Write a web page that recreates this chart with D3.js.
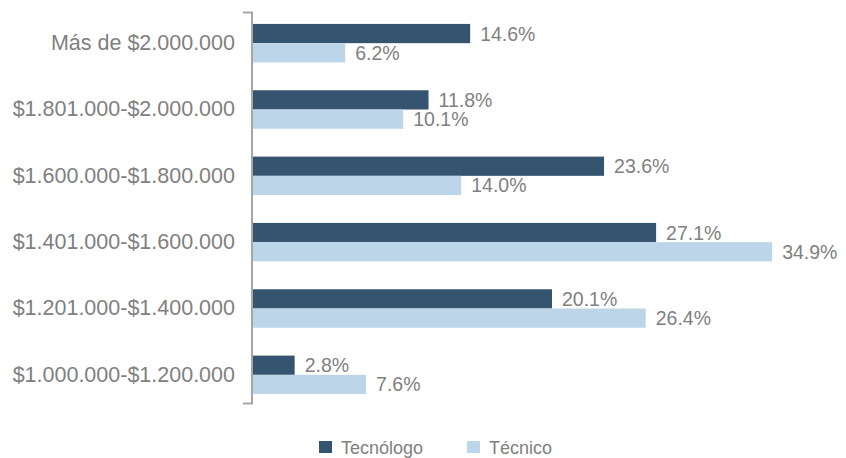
<!DOCTYPE html>
<html><head><meta charset="utf-8">
<script src="https://cdn.jsdelivr.net/npm/d3@7"></script>
<style>body{margin:0;background:#fff}svg{display:block}</style>
</head><body>
<svg id="c" width="846" height="458"></svg>
<script>
const categories = ["Más de $2.000.000","$1.801.000-$2.000.000","$1.600.000-$1.800.000","$1.401.000-$1.600.000","$1.201.000-$1.400.000","$1.000.000-$1.200.000"];
const seriesNames = ["Tecnólogo","Técnico"];
const tecnologo = [14.6, 11.8, 23.6, 27.1, 20.1, 2.8];
const tecnico = [6.2, 10.1, 14.0, 34.9, 26.4, 7.6];
const colors = ["#34546f","#bdd5e8"];
const font = "'Liberation Sans', Arial, sans-serif";
const textColor = "#808080";

const svg = d3.select("#c");
const x0 = 253;
const x = d3.scaleLinear().domain([0, 40]).range([x0, x0 + 595]);
const y = d3.scaleBand().domain(categories).range([10, 408]).paddingInner(0.42).paddingOuter(0.21);
const ySub = d3.scaleBand().domain(seriesNames).range([0, y.bandwidth()]);

const data = categories.map((c, i) => ({cat: c, vals: [tecnologo[i], tecnico[i]]}));

const g = svg.append("g");
data.forEach(d => {
  d.vals.forEach((v, j) => {
    const yy = y(d.cat) + ySub(seriesNames[j]);
    g.append("rect").attr("x", x(0)).attr("y", yy).attr("width", x(v) - x(0)).attr("height", ySub.bandwidth()).attr("fill", colors[j]);
    g.append("text").attr("x", x(v) + 10).attr("y", yy + ySub.bandwidth() / 2).attr("dy", "0.36em")
      .attr("font-family", font).attr("font-size", 19.5).attr("fill", textColor).text(v.toFixed(1) + "%");
  });
});

// axis
const ax = svg.append("g").attr("transform", `translate(${x0 - 1},0)`)
  .call(d3.axisLeft(y).tickSize(0).tickPadding(17));
ax.select(".domain").remove();
ax.selectAll("text").attr("font-family", font).attr("font-size", 21.5).attr("fill", textColor);
svg.append("path").attr("d", `M${x0 - 10},12.5H${x0 - 1}V403.5H${x0 - 10}`)
  .attr("fill", "none").attr("stroke", "#a6a6a6").attr("stroke-width", 2);

// legend
const leg = svg.append("g");
const legX = [319, 467];
seriesNames.forEach((s, j) => {
  leg.append("rect").attr("x", legX[j]).attr("y", 441).attr("width", 13).attr("height", 12).attr("fill", colors[j]);
  leg.append("text").attr("x", legX[j] + 22).attr("y", 448).attr("dy", "0.36em")
    .attr("font-family", font).attr("font-size", 18).attr("fill", textColor).text(s);
});
</script>
</body></html>
